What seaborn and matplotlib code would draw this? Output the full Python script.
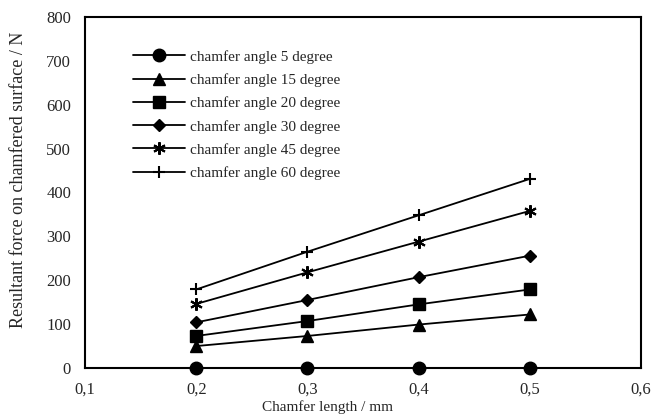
import matplotlib
matplotlib.use("Agg")
import matplotlib.pyplot as plt
import seaborn as sns
import pandas as pd

chamfer_length = [0.2, 0.3, 0.4, 0.5]
angle_5 = [0, 0, 0, 0]
angle_15 = [50, 73, 99, 122]
angle_20 = [73, 107, 145, 179]
angle_30 = [104, 155, 207, 256]
angle_45 = [146, 218, 288, 358]
angle_60 = [179, 265, 348, 431]
series_labels = ["chamfer angle 5 degree", "chamfer angle 15 degree", "chamfer angle 20 degree",
                 "chamfer angle 30 degree", "chamfer angle 45 degree", "chamfer angle 60 degree"]
x_ticks = [0.1, 0.2, 0.3, 0.4, 0.5, 0.6]
x_tick_labels = ["0,1", "0,2", "0,3", "0,4", "0,5", "0,6"]
y_ticks = [0, 100, 200, 300, 400, 500, 600, 700, 800]

sns.set_style("white")
plt.rcParams['font.family'] = ['Liberation Serif', 'DejaVu Serif']

fig = plt.figure(figsize=(6.51, 4.16), dpi=100)
ax = fig.add_axes([85/651, 48/416, 556/651, 351/416])

all_values = [angle_5, angle_15, angle_20, angle_30, angle_45, angle_60]
markers = ['o', '^', 's', 'D', (6, 2, 0), '+']
sizes = [9, 8, 8.5, 6.5, 9, 9]
for vals, lab, mk, ms in zip(all_values, series_labels, markers, sizes):
    df = pd.DataFrame({"x": chamfer_length, "y": vals})
    sns.lineplot(data=df, x="x", y="y", ax=ax, color="black", marker=mk,
                 markersize=ms, markeredgewidth=1.5 if mk in ['+', (6, 2, 0)] else 1,
                 markeredgecolor="black", markerfacecolor="black", linewidth=1.3,
                 label=lab, clip_on=False, zorder=3)

ax.set_xlim(0.1, 0.6)
ax.set_ylim(0, 800)
ax.set_xticks(x_ticks)
ax.set_xticklabels(x_tick_labels)
ax.set_yticks(y_ticks)
for s in ax.spines.values():
    s.set_color("black")
    s.set_linewidth(1.5)
ax.tick_params(axis='y', direction='in', length=4, width=1.2, color='black', labelsize=12, pad=10)
ax.tick_params(axis='x', length=0, labelsize=12, pad=10)
ax.set_xlabel("Chamfer length / mm", fontsize=11)
ax.xaxis.set_label_coords((328 - 85) / 556, (368 - 400) / 351)
ax.set_ylabel("Resultant force on chamfered surface / N", fontsize=13)
ax.yaxis.set_label_coords((27 - 85) / 556, (368 - 180) / 351)

leg = ax.legend(loc="upper left", bbox_to_anchor=((133 - 85) / 556, (368 - 50) / 351),
                frameon=False, fontsize=11, handlelength=3.4, handletextpad=0.33,
                labelspacing=0.62, borderaxespad=0, borderpad=0)
for line in leg.get_lines():
    line.set_linewidth(1.3)

fig.savefig("out.png", dpi=100)
